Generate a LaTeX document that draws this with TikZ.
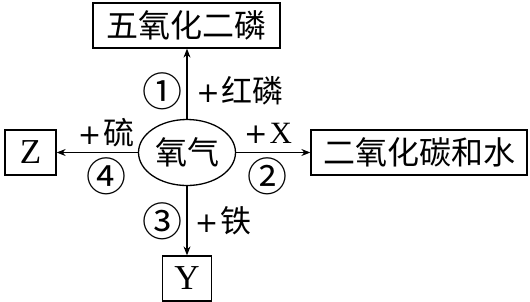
\documentclass[tikz,border=0pt]{standalone}
\usepackage{fontspec}
\setmainfont{Liberation Serif}
\newfontfamily\cjk{Noto Sans CJK SC}
\newfontfamily\plusfont{DejaVu Sans}
\usetikzlibrary{arrows.meta,shapes.geometric}
\tikzset{
  box/.style={draw,line width=1.3pt,minimum height=45pt,inner sep=0pt,font=\cjk\fontsize{32}{34}\selectfont},
  arr/.style={line width=1.1pt,-{Stealth[length=9pt,width=7pt]}},
  lab/.style={inner sep=0pt,font=\fontsize{31}{33}\selectfont},
  num/.style={inner sep=0pt,font=\cjk\fontsize{40}{42}\selectfont}
}
\newcommand{\pl}{{\plusfont\fontsize{28}{30}\selectfont +}\kern2pt}
\begin{document}
\begin{tikzpicture}[x=1pt,y=-1pt]
\useasboundingbox (0,0) rectangle (530,301);
\node[box,minimum width=187pt] (p) at (186.5,25.5) {五氧化二磷};
\node[box,minimum width=51pt,font=\fontsize{35}{36}\selectfont] (z) at (30.5,152.5) {Z};
\node[box,minimum width=216pt] (c) at (419,152.5) {二氧化碳和水};
\node[box,minimum width=49pt,font=\fontsize{35}{36}\selectfont] (y) at (187,278.5) {Y};
\node[draw,ellipse,line width=1.3pt,minimum width=97pt,minimum height=66pt,inner sep=0pt,font=\cjk\fontsize{32}{34}\selectfont] (o) at (187,152.5) {氧气};
\draw[arr] (o.north) -- (o.north |- p.south);
\draw[arr] (o.south) -- (o.south |- y.north);
\draw[arr] (o.west) -- (o.west -| z.east);
\draw[arr] (o.east) -- (o.east -| c.west);
\node[num] (n1) at (162,91) {①};
\node[lab] (l1) at (240,91) {\pl{\cjk 红磷}};
\node[num] (n2) at (267,176) {②};
\node[lab] (l2) at (268,133) {\pl X};
\node[num] (n3) at (162,221) {③};
\node[lab] (l3) at (223,221) {\pl{\cjk 铁}};
\node[num] (n4) at (106,176) {④};
\node[lab] (l4) at (106,133) {\pl{\cjk 硫}};
\end{tikzpicture}
\end{document}
